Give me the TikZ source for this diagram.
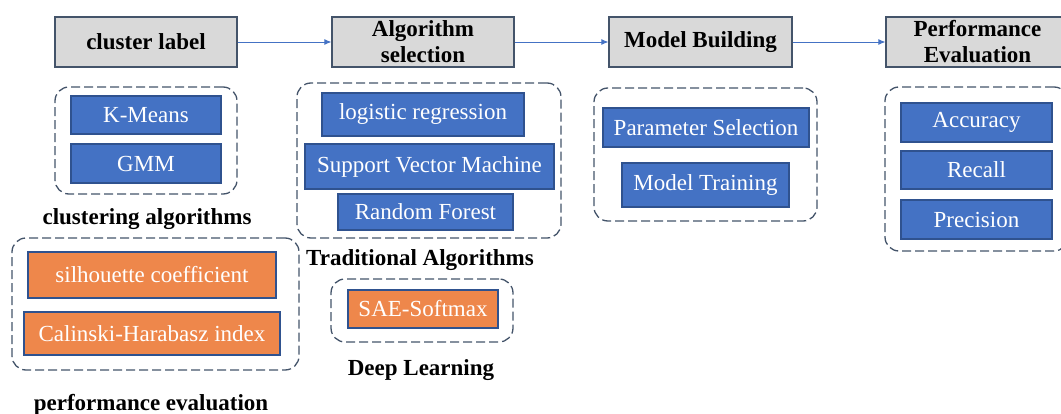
\documentclass[tikz,border=0pt]{standalone}
\usepackage{fontspec}
\setmainfont{Liberation Serif}
\usetikzlibrary{arrows.meta}
\definecolor{hdrgray}{HTML}{D9D9D9}
\definecolor{edgeblue}{HTML}{44546A}
\definecolor{boxblue}{HTML}{4472C4}
\definecolor{boxedge}{HTML}{2F528F}
\definecolor{boxorange}{RGB}{238,135,75}
\begin{document}
\begin{tikzpicture}[x=1pt,y=-1pt,
    hdr/.style={draw=edgeblue,fill=hdrgray,line width=1.2pt,inner sep=0pt,minimum height=50pt,
      align=center,font=\fontsize{23}{26}\selectfont\bfseries},
    bbox/.style={draw=boxedge,fill=boxblue,line width=1.1pt,inner sep=0pt,text=white,
      font=\fontsize{23}{24}\selectfont},
    obox/.style={bbox,fill=boxorange},
    grp/.style={draw=edgeblue,line width=1.3pt,dash pattern=on 9pt off 4pt,rounded corners=14pt,inner sep=0pt},
    lbl/.style={font=\fontsize{23}{24}\selectfont\bfseries,inner sep=0pt}]
    \useasboundingbox(0,0)rectangle(1061,414);
    % top row
    \node[hdr,minimum width=182pt](clabel)at(146,42){cluster label};
    \node[hdr,minimum width=182pt](algsel)at(423,42){Algorithm\\selection};
    \node[hdr,minimum width=183pt](modbld)at(700.5,42){Model Building};
    \node[hdr,minimum width=183pt](perfev)at(977.5,42){Performance\\Evaluation};
    \draw[-{Latex[length=7pt,width=6pt]},boxblue,line width=0.9pt](clabel)--(algsel);
    \draw[-{Latex[length=7pt,width=6pt]},boxblue,line width=0.9pt](algsel)--(modbld);
    \draw[-{Latex[length=7pt,width=6pt]},boxblue,line width=0.9pt](modbld)--(perfev);
    % clustering algorithms
    \node[grp,minimum width=182pt,minimum height=107pt](clugrp)at(146,140.5){};
    \node[bbox,minimum width=150pt,minimum height=38pt](kmeans)at(146,115){K-Means};
    \node[bbox,minimum width=150pt,minimum height=39pt](gmm)at(146,163.5){GMM};
    \node[lbl](clulbl)at(147,219){clustering algorithms};
    % performance evaluation (left)
    \node[grp,minimum width=287pt,minimum height=132pt](evalgrp)at(155.5,304){};
    \node[obox,minimum width=248pt,minimum height=46pt](silh)at(152,275){silhouette coefficient};
    \node[obox,minimum width=256pt,minimum height=43pt](chidx)at(152,333.5){Calinski-Harabasz index};
    \node[lbl](evallbl)at(151,405){performance evaluation};
    % traditional algorithms
    \node[grp,minimum width=264pt,minimum height=155pt](tradgrp)at(429,160.5){};
    \node[bbox,minimum width=202pt,minimum height=43pt](logreg)at(423,114.5){logistic regression};
    \node[bbox,minimum width=249pt,minimum height=45pt](svm)at(429.5,166.5){Support Vector Machine};
    \node[bbox,minimum width=175pt,minimum height=36pt](rf)at(425.5,212){Random Forest};
    \node[lbl](tradlbl)at(420,260){Traditional Algorithms};
    % deep learning
    \node[grp,minimum width=182pt,minimum height=63pt](deepgrp)at(422,310.5){};
    \node[obox,minimum width=150pt,minimum height=38pt](sae)at(423,309){SAE-Softmax};
    \node[lbl](deeplbl)at(421,370){Deep Learning};
    % model building
    \node[grp,minimum width=223pt,minimum height=133pt](modgrp)at(705.5,154.5){};
    \node[bbox,minimum width=206pt,minimum height=39pt](parsel)at(706,127.5){Parameter Selection};
    \node[bbox,minimum width=167pt,minimum height=44pt](modtrn)at(705.5,185){Model Training};
    % performance evaluation (right)
    \node[grp,minimum width=183pt,minimum height=164pt](metgrp)at(976.5,169){};
    \node[bbox,minimum width=151pt,minimum height=39pt](acc)at(976.5,122.5){Accuracy};
    \node[bbox,minimum width=151pt,minimum height=38pt](rec)at(976.5,170){Recall};
    \node[bbox,minimum width=151pt,minimum height=39pt](prec)at(976.5,219.5){Precision};
  \end{tikzpicture}
\end{document}
